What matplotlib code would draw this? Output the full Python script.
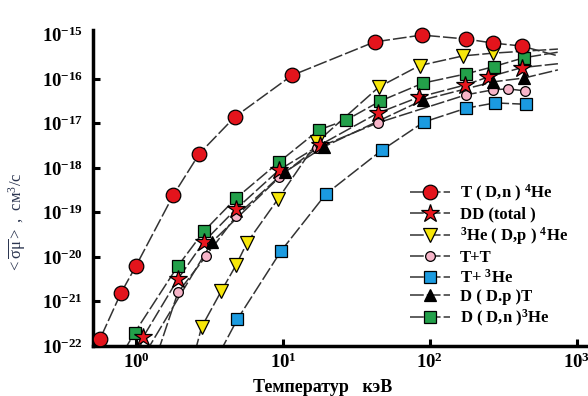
#!/usr/bin/env python3
# fusion reactivity <sigma v> vs temperature, log-log

import math
import matplotlib
matplotlib.use("Agg")
import matplotlib.pyplot as plt
from matplotlib.ticker import NullLocator, FuncFormatter

plt.rcParams['font.family'] = ['Liberation Serif', 'DejaVu Serif']
plt.rcParams['mathtext.fontset'] = 'custom'
plt.rcParams['mathtext.rm'] = 'Liberation Serif'
plt.rcParams['mathtext.it'] = 'Liberation Serif:italic'
plt.rcParams['mathtext.bf'] = 'Liberation Serif:bold'

# temperature, keV  /  reactivity, cm^3/s
dt_T = [0.57, 0.79, 1.0, 1.8, 2.7, 4.7, 11.5, 42, 88, 176, 270, 420]
dt_v = [1.45e-22, 1.55e-21, 6.3e-21, 2.5e-19, 2.1e-18, 1.4e-17, 1.2e-16,
        6.8e-16, 9.7e-16, 7.9e-16, 6.4e-16, 5.5e-16]

dd_T = [1.12, 1.93, 2.9, 4.8, 9.4, 17.9, 44, 84, 173, 248, 422]
dd_v = [1.6e-22, 3.2e-21, 2.2e-20, 1.2e-19, 9.0e-19, 3.3e-18, 1.7e-17,
        3.9e-17, 7.3e-17, 1.1e-16, 1.8e-16]

dhe3_T = [2.8, 3.8, 4.8, 5.7, 9.25, 17, 45, 85, 168, 268]
dhe3_v = [2.7e-22, 1.7e-21, 6.6e-21, 2.1e-20, 2.0e-19, 3.8e-18, 6.6e-17,
          2.0e-16, 3.3e-16, 3.8e-16]

tt_T = [1.93, 3.0, 4.8, 9.4, 17, 44, 176, 268, 339, 443]
tt_v = [1.6e-21, 1.05e-20, 8.3e-20, 6.3e-19, 2.8e-18, 1.03e-17, 4.4e-17,
        5.7e-17, 6.0e-17, 5.4e-17]

the3_T = [4.9, 9.7, 19.6, 47, 91, 176, 277, 450]
the3_v = [4.0e-22, 1.36e-20, 2.6e-19, 2.5e-18, 1.08e-17, 2.2e-17, 2.9e-17,
          2.7e-17]

ddp_T = [3.3, 10.3, 19, 90, 268, 436]
ddp_v = [2.2e-20, 8.1e-19, 3.0e-18, 3.4e-17, 8.6e-17, 1.05e-16]

ddn_T = [0.98, 1.93, 2.9, 4.8, 9.4, 17.6, 27, 46, 90, 176, 272, 436]
ddn_v = [2.0e-22, 6.3e-21, 3.8e-20, 2.1e-19, 1.36e-18, 7.2e-18, 1.2e-17,
         3.2e-17, 8.1e-17, 1.3e-16, 1.9e-16, 3.0e-16]

# where the fitted curves leave the frame / end, (T, v)
dt_ends = [(0.53, 7.3e-23), (743, 3.3e-16)]
dd_ends = [(1.04, 7.3e-23), (743, 2.2e-16)]
dhe3_ends = [(2.52, 7.3e-23), (743, 4.7e-16)]
tt_ends = [(1.41, 7.3e-23), None]
the3_ends = [(3.73, 7.3e-23), None]
ddp_ends = [(1.17, 7.3e-23), (743, 1.6e-16)]
ddn_ends = [(0.82, 7.3e-23), (743, 4.0e-16)]

labels = [r'T ( D,n ) $^{\mathbf{4}}$He', 'DD (total )',
          r'$^{\mathbf{3}}$He ( D,p ) $^{\mathbf{4}}$He', 'T+T',
          r'T+ $^{\mathbf{3}}$He', 'D ( D.p )T', r'D ( D,n )$^{\mathbf{3}}$He']

xticks = [1, 10, 100, 1000]
yticks = [1e-22, 1e-21, 1e-20, 1e-19, 1e-18, 1e-17, 1e-16, 1e-15]


def curve(T, v, ends):
    lo, hi = ends
    xs, ys = list(T), list(v)
    if lo:
        xs.insert(0, lo[0])
        ys.insert(0, lo[1])
    if hi:
        xs.append(hi[0])
        ys.append(hi[1])
    return xs, ys


def plot(ax):
    series = [
        (dt_T, dt_v, dt_ends, dict(marker='o', ms=10.5, mfc='#e3141c')),
        (dd_T, dd_v, dd_ends, dict(marker='*', ms=13.5, mfc='#e8161e')),
        (dhe3_T, dhe3_v, dhe3_ends, dict(marker='v', ms=10, mfc='#f7e70a')),
        (tt_T, tt_v, tt_ends, dict(marker='o', ms=7, mfc='#f6b4c8')),
        (the3_T, the3_v, the3_ends, dict(marker='s', ms=8.5, mfc='#1b9be0')),
        (ddp_T, ddp_v, ddp_ends, dict(marker='^', ms=8.5, mfc='black')),
        (ddn_T, ddn_v, ddn_ends, dict(marker='s', ms=8, mfc='#23a04a')),
    ]
    line_kw = dict(color='#333333', lw=1.1, dashes=(9, 2), zorder=2)
    marker_z = [5, 6, 4, 3, 3, 7, 2.5]

    handles = []
    for (T, v, ends, mk), z in zip(series, marker_z):
        xs, ys = curve(T, v, ends)
        ln, = ax.plot(xs, ys, **line_kw)
        pts, = ax.plot(T, v, ls='none', mec='black', mew=0.9,
                       zorder=z + 1, clip_on=False, **mk)
        handles.append((ln, pts))

    ax.set_xscale('log')
    ax.set_yscale('log')
    ax.set_xlim(0.51, 1190)
    ax.set_ylim(1e-22, 1.26e-15)
    ax.set_xticks(xticks)
    ax.set_yticks(yticks)
    ax.xaxis.set_minor_locator(NullLocator())
    ax.yaxis.set_minor_locator(NullLocator())
    fmt = FuncFormatter(lambda v, p: r'$\mathbf{10^{%d}}$' % round(math.log10(v)))
    ax.xaxis.set_major_formatter(fmt)
    ax.yaxis.set_major_formatter(fmt)

    for s in ('top', 'right'):
        ax.spines[s].set_visible(False)
    for s in ('left', 'bottom'):
        ax.spines[s].set_linewidth(2.5)
    ax.tick_params(direction='in', length=5, width=2.2, labelsize=13.5)
    ax.tick_params(axis='x', pad=5)
    ax.tick_params(axis='y', pad=7)
    ax.yaxis.get_major_ticks()[-1].tick1line.set_visible(False)

    leg = ax.legend(handles, labels, loc='upper left', frameon=False,
                    bbox_to_anchor=(410 / 588, 1 - 183 / 396),
                    bbox_transform=ax.figure.transFigure,
                    borderpad=0, borderaxespad=0, handlelength=2.4,
                    handletextpad=0.6, labelspacing=0.16,
                    prop=dict(family='Liberation Serif', weight='bold', size=12))
    return leg


def main():
    fig = plt.figure(figsize=(5.88, 3.96), dpi=100)
    ax = fig.add_axes([93 / 588, 1 - 346 / 396, 495 / 588, 316 / 396])
    plot(ax)

    fig.text(323 / 588, 1 - 387 / 396, 'Температур   кэВ', ha='center',
             va='center', fontsize=13, fontweight='bold')
    fig.text(17 / 588, 1 - 223 / 396,
             r'$<\overline{\mathrm{\sigma\mu}}>$ ,  см$^3$/с',
             rotation=90, ha='center', va='center', fontsize=12,
             color='#2b3550')

    fig.savefig('out.png', dpi=100, facecolor='white')


if __name__ == "__main__":
    main()
